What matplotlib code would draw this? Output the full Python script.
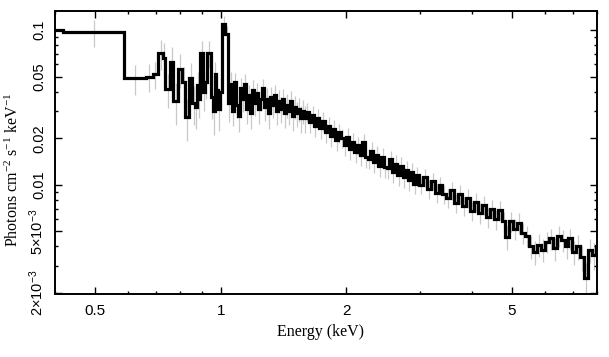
import numpy as np
import matplotlib
matplotlib.use('Agg')
import matplotlib.pyplot as plt
from matplotlib.ticker import NullFormatter

# bin edges (keV)
e_low = [0.380, 0.418, 0.586, 0.662, 0.686, 0.707, 0.727, 0.736, 0.756, 0.768,
         0.790, 0.808, 0.821, 0.839, 0.853, 0.868, 0.876, 0.884, 0.892, 0.907,
         0.917, 0.927, 0.948, 0.958, 0.966, 0.975, 0.985, 0.996, 1.007, 1.024,
         1.041, 1.052]
e_mid = [1.064, 1.076, 1.088, 1.100, 1.112, 1.124, 1.137, 1.150, 1.163, 1.176,
         1.189, 1.202, 1.215, 1.228, 1.242, 1.256, 1.270, 1.284, 1.298, 1.312,
         1.327, 1.342, 1.357, 1.372, 1.387, 1.402, 1.418, 1.434, 1.450, 1.466,
         1.482, 1.498, 1.515, 1.532, 1.549, 1.566, 1.583]
e_hi1 = [1.600, 1.624, 1.648, 1.673, 1.698, 1.724, 1.750, 1.776, 1.803, 1.830,
         1.857, 1.885, 1.913, 1.942, 1.971, 2.001, 2.031, 2.061, 2.092, 2.123,
         2.155, 2.187, 2.220, 2.253, 2.287, 2.321, 2.356, 2.391, 2.427, 2.463,
         2.500, 2.538, 2.576, 2.614, 2.653, 2.693, 2.733, 2.774, 2.816, 2.858,
         2.901, 2.944]
e_hi2 = [2.988, 3.054, 3.121, 3.190, 3.260, 3.332, 3.405, 3.480, 3.557, 3.635,
         3.715, 3.797, 3.881, 3.966, 4.053, 4.142, 4.233, 4.326, 4.421, 4.518,
         4.618, 4.720, 4.824, 4.930, 5.038, 5.149, 5.262, 5.378, 5.496, 5.617,
         5.741, 5.867, 5.996, 6.128, 6.263, 6.401, 6.542, 6.686, 6.833, 6.983,
         7.137, 7.294, 7.454, 7.618, 7.786, 7.957, 8.132]

# photons cm^-2 s^-1 keV^-1 per bin
f_low = [0.0995, 0.0975, 0.0488, 0.050, 0.052, 0.071, 0.066, 0.0416, 0.062, 0.035,
         0.056, 0.046, 0.0275, 0.049, 0.034, 0.032, 0.044, 0.036, 0.071, 0.040,
         0.046, 0.071, 0.037, 0.030, 0.052, 0.041, 0.031, 0.040, 0.110, 0.095,
         0.034, 0.045]
f_mid = [0.030, 0.046, 0.033, 0.028, 0.042, 0.036, 0.045, 0.031, 0.038, 0.029,
         0.041, 0.034, 0.039, 0.031, 0.036, 0.042, 0.032, 0.036, 0.029, 0.037,
         0.033, 0.038, 0.030, 0.035, 0.031, 0.036, 0.029, 0.033, 0.030, 0.035,
         0.028, 0.032, 0.029, 0.031, 0.027, 0.030, 0.027]
f_hi1 = [0.0295, 0.0255, 0.0282, 0.0240, 0.0270, 0.0232, 0.0258, 0.0218, 0.0240, 0.0206,
         0.0230, 0.0195, 0.0218, 0.0202, 0.0180, 0.0204, 0.0170, 0.0190, 0.0162, 0.0180,
         0.0156, 0.0190, 0.0152, 0.0148, 0.0165, 0.0140, 0.0156, 0.0133, 0.0152, 0.0131,
         0.0128, 0.0146, 0.0121, 0.0136, 0.0116, 0.0133, 0.0113, 0.0125, 0.0107, 0.0121,
         0.0102, 0.0115]
f_hi2 = [0.0100, 0.0112, 0.0094, 0.0106, 0.0089, 0.0100, 0.0087, 0.0082, 0.0092, 0.0076,
         0.0087, 0.0073, 0.0082, 0.0068, 0.0078, 0.0066, 0.0074, 0.0062, 0.0070, 0.0060,
         0.0069, 0.0058, 0.0046, 0.0058, 0.0052, 0.0057, 0.0049, 0.0047, 0.0040, 0.0037,
         0.0041, 0.0038, 0.0043, 0.0045, 0.0039, 0.0047, 0.0044, 0.0040, 0.0045, 0.0037,
         0.0040, 0.0034, 0.0025, 0.0038, 0.0035, 0.0040]

# relative 1-sigma errors per bin
r_low = [0.12, 0.20, 0.22, 0.20, 0.20, 0.22, 0.25, 0.25, 0.25, 0.30,
         0.25, 0.25, 0.30, 0.25, 0.28, 0.28, 0.22, 0.25, 0.20, 0.25,
         0.22, 0.20, 0.28, 0.30, 0.20, 0.25, 0.28, 0.25, 0.12, 0.12,
         0.25, 0.20]
r_mid = [0.20, 0.15, 0.18, 0.22, 0.16, 0.18, 0.15, 0.20, 0.17, 0.21,
         0.16, 0.18, 0.16, 0.20, 0.17, 0.15, 0.19, 0.17, 0.21, 0.16,
         0.18, 0.16, 0.19, 0.17, 0.19, 0.16, 0.20, 0.18, 0.19, 0.16,
         0.20, 0.17, 0.19, 0.18, 0.20, 0.18, 0.20]
r_hi1 = [0.14, 0.15, 0.14, 0.15, 0.14, 0.15, 0.14, 0.15, 0.14, 0.15,
         0.14, 0.15, 0.14, 0.14, 0.15, 0.14, 0.15, 0.14, 0.15, 0.14,
         0.15, 0.13, 0.15, 0.15, 0.14, 0.15, 0.14, 0.15, 0.14, 0.15,
         0.15, 0.14, 0.15, 0.14, 0.15, 0.14, 0.15, 0.14, 0.15, 0.14,
         0.15, 0.14]
r_hi2 = [0.13, 0.13, 0.14, 0.13, 0.14, 0.13, 0.14, 0.14, 0.13, 0.14,
         0.14, 0.14, 0.14, 0.14, 0.14, 0.15, 0.14, 0.15, 0.14, 0.15,
         0.14, 0.15, 0.17, 0.15, 0.16, 0.15, 0.16, 0.16, 0.17, 0.18,
         0.17, 0.17, 0.16, 0.16, 0.17, 0.16, 0.16, 0.17, 0.16, 0.18,
         0.18, 0.19, 0.25, 0.18, 0.20, 0.20]

x_major = [0.5, 1, 2, 5]
x_labels = ['0.5', '1', '2', '5']
x_minor = [0.4, 0.6, 0.7, 0.8, 0.9, 3, 4, 6, 7, 8]
y_major = [0.002, 0.005, 0.01, 0.02, 0.05, 0.1]
y_labels = [r'2×10$\mathregular{^{-3}}$', r'5×10$\mathregular{^{-3}}$',
            '0.01', '0.02', '0.05', '0.1']
y_minor = [0.003, 0.004, 0.006, 0.007, 0.008, 0.009,
           0.03, 0.04, 0.06, 0.07, 0.08, 0.09]

edges = np.array(e_low + e_mid + e_hi1 + e_hi2)
f = np.array(f_low + f_mid + f_hi1 + f_hi2)
err = f * np.array(r_low + r_mid + r_hi1 + r_hi2)
centres = np.sqrt(edges[:-1] * edges[1:])

fig = plt.figure(figsize=(6.09, 3.57), dpi=100)
ax = fig.add_axes([0.0903, 0.1765, 0.89, 0.7927])

ax.vlines(centres, f - err, f + err, color='#c8c8c8', lw=0.9, zorder=1)
ax.stairs(f, edges, baseline=None, color='black', lw=2.3, zorder=2)

ax.set_xscale('log')
ax.set_yscale('log')
ax.set_xlim(0.4, 8.0)
ax.set_ylim(0.00197, 0.133)

sans = 'Liberation Sans'
serif = 'Liberation Serif'
ax.set_xticks(x_major, labels=x_labels, family=sans, fontsize=11)
ax.set_xticks(x_minor, minor=True)
ax.set_yticks(y_major, labels=y_labels, family=sans, fontsize=10.5,
              rotation=90, va='center')
ax.set_yticks(y_minor, minor=True)
ax.xaxis.set_minor_formatter(NullFormatter())
ax.yaxis.set_minor_formatter(NullFormatter())

ax.tick_params(which='both', direction='in', top=True, right=True, width=1.0)
ax.tick_params(which='major', length=5, pad=7)
ax.tick_params(axis='y', which='major', pad=6.5)
ax.tick_params(which='minor', length=2.5)
for s in ax.spines.values():
    s.set_linewidth(1.4)

ax.set_xlabel('Energy (keV)', family=serif, fontsize=11.5)
ax.xaxis.set_label_coords(0.489, -0.106)
ax.set_ylabel(r'Photons cm$\mathregular{^{-2}}$ s$\mathregular{^{-1}}$ keV$\mathregular{^{-1}}$',
              family=serif, fontsize=11.5)
ax.yaxis.set_label_coords(-0.06, 0.44)

fig.savefig('out.png', dpi=100)
